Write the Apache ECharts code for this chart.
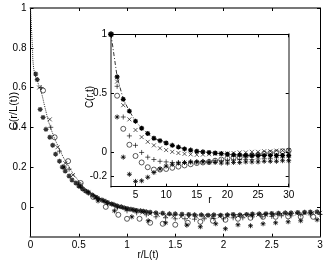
<!DOCTYPE html>
<html><head><meta charset="utf-8">
<script src="https://cdn.jsdelivr.net/npm/echarts@6/dist/echarts.min.js"></script>
<style>html,body{margin:0;padding:0;background:#fff}#c{width:327px;height:260px}</style>
</head><body><div id="c"></div>
<script>
// ---------- tick labels ----------
const mainXTicks = [0, 0.5, 1, 1.5, 2, 2.5, 3];
const mainYTicks = [0, 0.2, 0.4, 0.6, 0.8, 1];
const insetXTicks = [5, 10, 15, 20, 25, 30];
const insetYTicks = [-0.2, 0, 0.5, 1];
const titles = { mainX: 'r/L(t)', mainY: 'C(r/L(t))', insetX: 'r', insetY: 'C(r,t)' };

// ---------- main panel: C(r/L(t)) vs r/L(t) ----------
const curveX = [0, 0.01, 0.02, 0.03, 0.05, 0.08, 0.11, 0.15, 0.2, 0.3, 0.4, 0.5, 0.6, 0.8, 1.0, 1.3, 1.6, 2, 2.5, 3];
const curveY = [1, 0.9, 0.8, 0.71, 0.66, 0.62, 0.58, 0.5, 0.41, 0.29, 0.2, 0.13, 0.08, 0.02, -0.01, -0.03, -0.04, -0.04, -0.035, -0.03];

const mainStarX = [0.054, 0.07, 0.1, 0.13, 0.16, 0.2, 0.23, 0.26, 0.3, 0.33, 0.36, 0.4, 0.43, 0.47, 0.5, 0.54, 0.57, 0.6, 0.64, 0.67, 0.7, 0.74, 0.77, 0.8, 0.84, 0.87, 0.9, 0.94, 0.97, 1.0, 1.04, 1.07, 1.1, 1.14, 1.17, 1.2, 1.24, 1.3, 1.37, 1.44, 1.5, 1.57, 1.64, 1.7, 1.77, 1.84, 1.9, 1.97, 2.04, 2.1, 2.17, 2.24, 2.3, 2.37, 2.44, 2.5, 2.57, 2.64, 2.7, 2.77, 2.84, 2.9, 2.97];
const mainStarY = [0.668, 0.64, 0.49, 0.45, 0.39, 0.35, 0.31, 0.265, 0.23, 0.2, 0.18, 0.155, 0.135, 0.12, 0.105, 0.09, 0.08, 0.07, 0.06, 0.05, 0.042, 0.035, 0.028, 0.022, 0.015, 0.01, 0.005, 0.0, -0.005, -0.008, -0.012, -0.015, -0.018, -0.02, -0.022, -0.025, -0.027, -0.03, -0.032, -0.035, -0.035, -0.037, -0.038, -0.04, -0.04, -0.042, -0.04, -0.042, -0.04, -0.038, -0.04, -0.038, -0.036, -0.035, -0.034, -0.033, -0.032, -0.03, -0.03, -0.028, -0.027, -0.026, -0.025];

const mainCrossX = [0.09, 0.2, 0.28, 0.36, 0.44, 0.52, 0.6, 0.68, 0.76, 0.84, 0.92, 1.0, 1.08, 1.16, 1.24, 1.32, 1.4, 1.48, 1.56, 1.64, 1.72, 1.8, 1.88, 1.96, 2.04, 2.12, 2.2, 2.28, 2.36, 2.44, 2.52, 2.6, 2.68, 2.76, 2.84, 2.92, 3.0];
const mainCrossY = [0.6, 0.44, 0.3, 0.22, 0.16, 0.11, 0.075, 0.05, 0.03, 0.015, 0.0, -0.012, -0.02, -0.028, -0.035, -0.04, -0.045, -0.048, -0.05, -0.052, -0.05, -0.048, -0.05, -0.047, -0.045, -0.046, -0.044, -0.042, -0.04, -0.04, -0.038, -0.036, -0.035, -0.034, -0.032, -0.03, -0.03];

const mainPlusX = [0.11, 0.21, 0.3, 0.4, 0.5, 0.6, 0.7, 0.8, 0.9, 1.0, 1.1, 1.2, 1.3, 1.4, 1.5, 1.6, 1.7, 1.8, 1.9, 2.0, 2.1, 2.2, 2.3, 2.4, 2.5, 2.6, 2.7, 2.8, 2.9, 3.0];
const mainPlusY = [0.6, 0.4, 0.28, 0.19, 0.12, 0.075, 0.04, 0.015, -0.005, -0.02, -0.03, -0.04, -0.05, -0.055, -0.06, -0.06, -0.062, -0.06, -0.058, -0.06, -0.055, -0.055, -0.05, -0.05, -0.048, -0.045, -0.045, -0.04, -0.04, -0.038];

const mainCircleX = [0.13, 0.25, 0.39, 0.52, 0.65, 0.78, 0.91, 1.0, 1.13, 1.24, 1.37, 1.5, 1.63, 1.76, 1.89, 2.02, 2.15, 2.28, 2.41, 2.54, 2.67, 2.8, 2.93];
const mainCircleY = [0.585, 0.35, 0.23, 0.12, 0.05, 0.0, -0.04, -0.06, -0.06, -0.08, -0.085, -0.09, -0.08, -0.075, -0.07, -0.065, -0.06, -0.055, -0.05, -0.05, -0.048, -0.05, -0.05];

const mainStar2X = [0.35, 0.52, 0.7, 0.87, 1.05, 1.22, 1.4, 1.62, 1.76, 1.92, 2.02, 2.15, 2.28, 2.41, 2.54, 2.67, 2.8, 2.97];
const mainStar2Y = [0.2, 0.1, 0.03, -0.02, -0.05, -0.07, -0.08, -0.092, -0.1, -0.085, -0.11, -0.09, -0.095, -0.085, -0.08, -0.075, -0.07, -0.065];

// ---------- inset: C(r,t) vs r ----------
const rValues = [1, 2, 3, 4, 5, 6, 7, 8, 9, 10, 11, 12, 13, 14, 15, 16, 17, 18, 19, 20, 21, 22, 23, 24, 25, 26, 27, 28, 29, 30];
const insetStarLine = [1, 0.64, 0.45, 0.35, 0.265, 0.205, 0.16, 0.12, 0.1, 0.08, 0.06, 0.045, 0.03, 0.02, 0.01, 0.005, 0.0, -0.005, -0.01, -0.015, -0.02, -0.02, -0.025, -0.025, -0.025, -0.025, -0.025, -0.025, -0.025, -0.025];
const insetCross = [1, 0.6, 0.4, 0.28, 0.19, 0.13, 0.09, 0.06, 0.035, 0.02, 0.005, -0.005, -0.012, -0.016, -0.02, -0.018, -0.015, -0.012, -0.01, -0.008, -0.005, 0.0, 0.0, 0.005, 0.005, 0.01, 0.01, 0.015, 0.015, 0.02];
const insetPlus = [1, 0.56, 0.3, 0.14, 0.06, 0.0, -0.04, -0.06, -0.075, -0.08, -0.085, -0.085, -0.085, -0.08, -0.08, -0.075, -0.075, -0.07, -0.07, -0.065, -0.065, -0.06, -0.06, -0.06, -0.055, -0.05, -0.05, -0.045, -0.045, -0.04];
const insetCircle = [1, 0.48, 0.2, 0.065, -0.03, -0.085, -0.125, -0.145, -0.145, -0.14, -0.13, -0.12, -0.11, -0.1, -0.09, -0.085, -0.08, -0.07, -0.06, -0.05, -0.045, -0.04, -0.03, -0.025, -0.02, -0.01, -0.005, 0.0, 0.01, 0.015];
const insetStar = [1, 0.3, -0.04, -0.185, -0.245, -0.24, -0.21, -0.17, -0.14, -0.115, -0.1, -0.09, -0.085, -0.08, -0.08, -0.08, -0.085, -0.085, -0.09, -0.09, -0.085, -0.085, -0.08, -0.08, -0.08, -0.075, -0.075, -0.075, -0.07, -0.07];

// ---------- build ----------
const zip = (xs, ys) => xs.map((x, i) => [x, ys[i]]);
const STAR = 'path://M0,5L10,5M5,0L5,10M1.5,1.5L8.5,8.5M8.5,1.5L1.5,8.5';
const CROSS = 'path://M0,0L10,10M10,0L0,10';
const PLUS = 'path://M0,5L10,5M5,0L5,10';
const FONT = 'Liberation Sans, Arial, Helvetica, sans-serif';
const lineMarker = (w) => ({ color: 'rgba(0,0,0,0)', borderColor: '#000', borderWidth: w });

function ax(grid, min, max, ticks, pos, showLabel, lineColor, lineWidth) {
  return {
    type: 'value', gridIndex: grid, min: min, max: max, position: pos,
    axisLine: { show: true, onZero: false, lineStyle: { color: lineColor, width: lineWidth } },
    axisTick: { show: true, inside: true, length: 3, customValues: ticks, lineStyle: { color: '#000' } },
    axisLabel: { show: showLabel, customValues: ticks, color: '#000', fontSize: 10, fontFamily: FONT, margin: 4 },
    splitLine: { show: false }
  };
}
function title(text, x, y, size, rotate) {
  return { type: 'text', x: x, y: y, rotation: rotate ? Math.PI / 2 : 0, z: 10,
    style: { text: text, fill: '#000', font: size + 'px ' + FONT, align: 'center', verticalAlign: 'middle' } };
}

const option = {
  animation: false,
  backgroundColor: '#fff',
  textStyle: { fontFamily: FONT },
  grid: [
    { left: 30.5, top: 8, right: 7, bottom: 23.3, containLabel: false, outerBoundsMode: 'none' },
    { left: 111, top: 34.3, right: 38.3, bottom: 73.3, containLabel: false, outerBoundsMode: 'none', show: true, backgroundColor: '#fff', borderWidth: 0 }
  ],
  xAxis: [
    ax(0, 0, 3, mainXTicks, 'bottom', true, '#777', 2),
    ax(0, 0, 3, mainXTicks, 'top', false, '#777', 2),
    ax(1, 1, 30, insetXTicks, 'bottom', true, '#000', 1),
    ax(1, 1, 30, insetXTicks, 'top', false, '#000', 1)
  ],
  yAxis: [
    ax(0, -0.15, 1, mainYTicks, 'left', true, '#000', 1),
    ax(0, -0.15, 1, mainYTicks, 'right', false, '#000', 1),
    ax(1, -0.29, 1, insetYTicks, 'left', true, '#888', 2),
    ax(1, -0.29, 1, insetYTicks, 'right', false, '#888', 2)
  ],
  graphic: [
    title(titles.mainY, 14, 111, 11, true),
    title(titles.mainX, 148, 255.5, 10, false),
    title(titles.insetY, 90.5, 97, 10, true),
    title(titles.insetX, 210, 200.5, 10, false)
  ],
  series: [
    { type: 'line', xAxisIndex: 0, yAxisIndex: 0, data: zip(curveX, curveY), showSymbol: false, smooth: true,
      lineStyle: { type: 'dotted', color: '#333', width: 1 }, z: 1 },
    { type: 'scatter', xAxisIndex: 0, yAxisIndex: 0, data: zip(mainCircleX, mainCircleY), symbol: 'circle', symbolSize: 5, itemStyle: lineMarker(0.8) },
    { type: 'scatter', xAxisIndex: 0, yAxisIndex: 0, data: zip(mainPlusX, mainPlusY), symbol: PLUS, symbolSize: 5, itemStyle: lineMarker(0.8) },
    { type: 'scatter', xAxisIndex: 0, yAxisIndex: 0, data: zip(mainCrossX, mainCrossY), symbol: CROSS, symbolSize: 4, itemStyle: lineMarker(0.8) },
    { type: 'scatter', xAxisIndex: 0, yAxisIndex: 0, data: zip(mainStar2X, mainStar2Y), symbol: STAR, symbolSize: 5, itemStyle: lineMarker(1) },
    { type: 'scatter', xAxisIndex: 0, yAxisIndex: 0, data: zip(mainStarX, mainStarY), symbol: STAR, symbolSize: 5, itemStyle: lineMarker(1.2) },

    { type: 'line', xAxisIndex: 2, yAxisIndex: 2, data: zip(rValues, insetStarLine), symbol: STAR, symbolSize: 5, showSymbol: true,
      itemStyle: lineMarker(1.2), lineStyle: { color: '#000', width: 0.8, type: [4, 2, 1, 2] }, z: 3 },
    { type: 'scatter', xAxisIndex: 2, yAxisIndex: 2, data: zip(rValues, insetCross), symbol: CROSS, symbolSize: 4, itemStyle: lineMarker(0.8) },
    { type: 'scatter', xAxisIndex: 2, yAxisIndex: 2, data: zip(rValues, insetPlus), symbol: PLUS, symbolSize: 5, itemStyle: lineMarker(0.8) },
    { type: 'scatter', xAxisIndex: 2, yAxisIndex: 2, data: zip(rValues, insetCircle), symbol: 'circle', symbolSize: 5, itemStyle: lineMarker(0.8) },
    { type: 'scatter', xAxisIndex: 2, yAxisIndex: 2, data: zip(rValues, insetStar), symbol: STAR, symbolSize: 5, itemStyle: lineMarker(1) }
  ]
};
const chart = echarts.init(document.getElementById('c'), null, { renderer: 'canvas' });
chart.setOption(option);
</script>
</body></html>
